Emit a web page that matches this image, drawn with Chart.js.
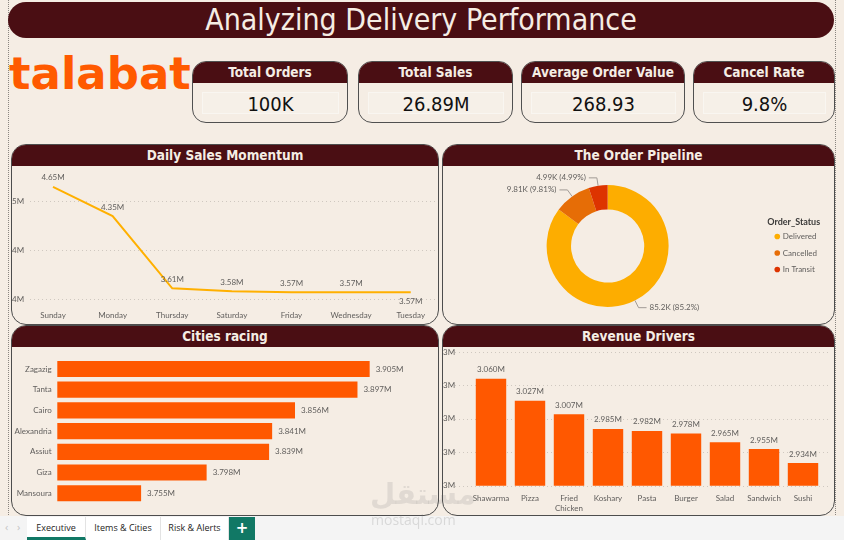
<!DOCTYPE html>
<html lang="en">
<head>
<meta charset="utf-8">
<title>Analyzing Delivery Performance</title>
<script src="https://cdn.jsdelivr.net/npm/chart.js@4.4.1/dist/chart.umd.min.js"></script>
<style>
  * { box-sizing: border-box; }
  body { margin: 0; width: 844px; height: 540px; overflow: hidden; position: relative; background: #F5EDE4; font-family: Lato, "Open Sans", sans-serif; }
  .frame { position: absolute; left: 8px; top: -2px; width: 828px; height: 519px; border: 1px dotted #8a8580; }
  .banner { position: absolute; left: 8px; top: 2px; width: 826px; height: 36px; border-radius: 18px; background: #4A0E13; color: #F5EDE4; text-align: center; font: 30px/36px "DejaVu Sans Condensed", sans-serif; }
  .logo { position: absolute; left: 9px; top: 46px; font: bold 45px/56px "DejaVu Sans", sans-serif; color: #FF5A00; }
  .card { position: absolute; top: 61px; height: 62px; border: 1px solid #505050; border-radius: 14px; overflow: hidden; }
  .card .head { height: 21px; background: #4A0E13; color: #F5EDE4; text-align: center; font: bold 13.5px/21px "DejaVu Sans Condensed", sans-serif; }
  .card .box { position: absolute; left: 9px; right: 8px; top: 30px; height: 22px; border: 1px solid rgba(255,255,255,0.4); background: #F6F0E8; text-align: center; font: 20px/22px "DejaVu Sans Condensed", sans-serif; color: #111; }
  .panel { position: absolute; border: 1.5px solid #4d4d4d; border-radius: 15px; overflow: hidden; }
  .panel .head { height: 21px; background: #4A0E13; color: #F5EDE4; text-align: center; font: bold 13.5px/21px "DejaVu Sans Condensed", sans-serif; }
  canvas { position: absolute; }
  .mark { position: absolute; color: rgba(110,110,110,0.15); pointer-events: none; }
  .tabs { position: absolute; left: 0; top: 516px; width: 844px; height: 24px; background: #F4F4F4; font: 9px/21px "Open Sans", sans-serif; color: #252423; }
  .tab { position: absolute; top: 1px; height: 23px; background: #fff; text-align: center; border-right: 1px solid #E3E3E3; }
  .tab.active { border-bottom: 3px solid #117865; }
  .plus { position: absolute; top: 1px; height: 23px; background: #117865; color: #fff; text-align: center; font: bold 15px/22px "DejaVu Sans", sans-serif; }
  .arrow { position: absolute; top: 0; color: #C4C4C4; font-size: 11px; }
</style>
</head>
<body>
<div class="frame"></div>
<div class="banner">Analyzing Delivery Performance</div>
<div class="logo">talabat</div>
<div id="cards"></div>

<div class="panel" style="left:11px;top:144px;width:428px;height:181px"><div class="head">Daily Sales Momentum</div></div>
<div class="panel" style="left:442px;top:144px;width:393px;height:181px"><div class="head">The Order Pipeline</div></div>
<div class="panel" style="left:11px;top:325px;width:428px;height:191px"><div class="head">Cities racing</div></div>
<div class="panel" style="left:442px;top:325px;width:393px;height:191px"><div class="head">Revenue Drivers</div></div>

<canvas id="salesChart" width="425" height="156" style="left:12px;top:167px"></canvas>
<canvas id="pipelineChart" width="391" height="156" style="left:443px;top:167px"></canvas>
<canvas id="citiesChart" width="426" height="166" style="left:12px;top:348px"></canvas>
<canvas id="itemsChart" width="391" height="166" style="left:443px;top:348px"></canvas>

<div class="tabs">
  <span class="arrow" style="left:5px">&#8249;</span>
  <span class="arrow" style="left:17px">&#8250;</span>
  <div class="tab active" style="left:27px;width:59px">Executive</div>
  <div class="tab" style="left:86px;width:75px">Items &amp; Cities</div>
  <div class="tab" style="left:161px;width:68px">Risk &amp; Alerts</div>
  <div class="plus" style="left:229px;width:26px">+</div>
</div>

<div class="mark" style="left:370px;top:476px;font:bold 29px/36px 'DejaVu Sans',sans-serif">مستقل</div>
<div class="mark" style="left:371px;top:511px;font:14px/18px 'Open Sans',sans-serif;color:rgba(120,120,120,0.22)">mostaql.com</div>

<script>
// KPI cards
const kpiTitles = ['Total Orders', 'Total Sales', 'Average Order Value', 'Cancel Rate'];
const kpiValues = ['100K', '26.89M', '268.93', '9.8%'];

// daily sales (millions)
const days = ['Sunday', 'Monday', 'Thursday', 'Saturday', 'Friday', 'Wednesday', 'Tuesday'];
const dailySales = [4.65, 4.35, 3.61, 3.58, 3.57, 3.57, 3.57];

// order status (orders)
const statuses = ['Delivered', 'Cancelled', 'In Transit'];
const statusOrders = [85200, 9810, 4990];

// cities (sales, millions)
const cities = ['Zagazig', 'Tanta', 'Cairo', 'Alexandria', 'Assiut', 'Giza', 'Mansoura'];
const citySales = [3.905, 3.897, 3.856, 3.841, 3.839, 3.798, 3.755];

// items (sales, millions)
const items = ['Shawarma', 'Pizza', 'Fried Chicken', 'Koshary', 'Pasta', 'Burger', 'Salad', 'Sandwich', 'Sushi'];
const itemSales = [3.060, 3.027, 3.007, 2.985, 2.982, 2.978, 2.965, 2.955, 2.934];

const labelGray = '#605E5C';

// cards html
const cardBoxes = [[192, 156], [358, 155], [521, 164], [693, 142]];
let html = '';
kpiTitles.forEach((t, i) => {
    html += `<div class="card" style="left:${cardBoxes[i][0]}px;width:${cardBoxes[i][1]}px">
        <div class="head">${t}</div><div class="box">${kpiValues[i]}</div></div>`;
});
document.getElementById('cards').innerHTML = html;

Chart.defaults.font.family = 'Lato, "Open Sans", sans-serif';
Chart.defaults.font.size = 8;
Chart.defaults.color = labelGray;
Chart.defaults.animation = false;
Chart.defaults.plugins.tooltip.enabled = false;

// dotted gridlines that run past the plot area, like Power BI does
const fullGrid = {
    id: 'fullGrid',
    beforeDatasetsDraw(chart, args, opts) {
        const y = chart.scales.y;
        const ctx = chart.ctx;
        ctx.save();
        ctx.strokeStyle = '#CFC8C0';
        ctx.lineWidth = 1;
        ctx.setLineDash([1, 3]);
        y.ticks.forEach(t => {
            const py = Math.round(y.getPixelForValue(t.value)) + 0.5;
            ctx.beginPath();
            ctx.moveTo(opts.x0, py);
            ctx.lineTo(opts.x1, py);
            ctx.stroke();
        });
        ctx.restore();
    }
};

// data labels
const valueLabels = {
    id: 'valueLabels',
    afterDatasetsDraw(chart, args, opts) {
        const ctx = chart.ctx;
        const meta = chart.getDatasetMeta(0);
        const values = chart.data.datasets[0].data;
        ctx.save();
        ctx.font = '8px Lato, "Open Sans", sans-serif';
        ctx.fillStyle = labelGray;
        ctx.textBaseline = 'middle';
        meta.data.forEach((el, i) => {
            const txt = values[i].toFixed(opts.decimals) + 'M';
            if (opts.side === 'right') {
                ctx.textAlign = 'left';
                ctx.fillText(txt, el.x + 6, el.y);
            } else if (opts.lastBelow && i === values.length - 1) {
                ctx.textAlign = 'center';
                ctx.fillText(txt, el.x, el.y + 9);
            } else {
                ctx.textAlign = 'center';
                ctx.fillText(txt, el.x, el.y - 9);
            }
        });
        ctx.restore();
    }
};

// doughnut labels with leader lines
const pipelineLabels = {
    id: 'pipelineLabels',
    afterDatasetsDraw(chart) {
        const ctx = chart.ctx;
        const meta = chart.getDatasetMeta(0);
        const values = chart.data.datasets[0].data;
        const total = values.reduce((a, b) => a + b, 0);
        ctx.save();
        ctx.font = '8px Lato, "Open Sans", sans-serif';
        ctx.fillStyle = labelGray;
        ctx.strokeStyle = '#A09A95';
        ctx.lineWidth = 1;
        ctx.textBaseline = 'middle';
        meta.data.forEach((arc, i) => {
            const mid = (arc.startAngle + arc.endAngle) / 2;
            const cos = Math.cos(mid), sin = Math.sin(mid);
            const x1 = arc.x + cos * arc.outerRadius;
            const y1 = arc.y + sin * arc.outerRadius;
            const x2 = arc.x + cos * (arc.outerRadius + 8);
            const y2 = arc.y + sin * (arc.outerRadius + 8);
            const right = cos >= 0;
            const x3 = x2 + (right ? 8 : -8);
            ctx.beginPath();
            ctx.moveTo(x1, y1);
            ctx.lineTo(x2, y2);
            ctx.lineTo(x3, y2);
            ctx.stroke();
            const txt = (values[i] / 1000).toPrecision(3) + 'K (' + (values[i] / total * 100).toPrecision(3) + '%)';
            ctx.textAlign = right ? 'left' : 'right';
            ctx.fillText(txt, x3 + (right ? 3 : -3), y2);
        });
        ctx.restore();
    }
};

// 📈 Daily Sales Momentum
new Chart(document.getElementById('salesChart'), {
    type: 'line',
    data: {
        labels: days,
        datasets: [{
            data: dailySales,
            borderColor: '#FFB000',
            borderWidth: 2,
            pointRadius: 0,
            tension: 0
        }]
    },
    options: {
        responsive: false,
        layout: { padding: { top: 3.2, right: 20, bottom: 2, left: 0 } },
        plugins: {
            legend: { display: false },
            fullGrid: { x0: 18, x1: 425 },
            valueLabels: { decimals: 2, lastBelow: true }
        },
        scales: {
            x: {
                grid: { display: false, drawTicks: false },
                border: { display: false },
                ticks: { padding: 12, maxRotation: 0, autoSkip: false },
                afterFit: s => { s.height = 22; }
            },
            y: {
                min: 3.5,
                max: 4.82,
                grid: { display: false, drawTicks: false },
                border: { display: false },
                ticks: { stepSize: 0.5, padding: 0, font: { lineHeight: 0.8 }, includeBounds: false, crossAlign: 'far', callback: v => Math.round(v) + 'M' },
                afterFit: s => { s.width = 41; }
            }
        }
    },
    plugins: [fullGrid, valueLabels]
});

// 🍩 The Order Pipeline
new Chart(document.getElementById('pipelineChart'), {
    type: 'doughnut',
    data: {
        labels: statuses,
        datasets: [{
            data: statusOrders,
            backgroundColor: ['#FDAD00', '#E66D06', '#DD3400'],
            borderWidth: 0
        }]
    },
    options: {
        responsive: false,
        cutout: '60%',
        layout: { padding: { top: 18, bottom: 16, left: 5, right: 7 } },
        plugins: {
            legend: {
                position: 'right',
                align: 'center',
                title: { display: true, text: 'Order_Status', color: '#3B3A39', font: { size: 9, weight: 'bold', lineHeight: 1 }, position: 'start', padding: { top: 8, bottom: -3 } },
                labels: { usePointStyle: true, pointStyle: 'circle', boxWidth: 3, boxHeight: 4, padding: 8.5, color: labelGray, font: { size: 8 } }
            }
        }
    },
    plugins: [pipelineLabels]
});

// 🏙️ Cities racing
new Chart(document.getElementById('citiesChart'), {
    type: 'bar',
    data: {
        labels: cities,
        datasets: [{
            data: citySales,
            backgroundColor: '#FF5800',
            barPercentage: 0.78,
            categoryPercentage: 1
        }]
    },
    options: {
        responsive: false,
        indexAxis: 'y',
        layout: { padding: { top: 10.6, right: 15, bottom: 5.2, left: 0 } },
        plugins: {
            legend: { display: false },
            valueLabels: { decimals: 3, side: 'right' }
        },
        scales: {
            x: { display: false, min: 3.7, max: 3.94 },
            y: {
                grid: { display: false, drawTicks: false },
                border: { display: false },
                ticks: { padding: 5.6, autoSkip: false },
                afterFit: s => { s.width = 45.3; }
            }
        }
    },
    plugins: [valueLabels]
});

// 🍔 Revenue Drivers
new Chart(document.getElementById('itemsChart'), {
    type: 'bar',
    data: {
        labels: items.map(s => s.includes(' ') ? s.split(' ') : s),
        datasets: [{
            data: itemSales,
            backgroundColor: '#FF5800',
            barPercentage: 0.78,
            categoryPercentage: 1
        }]
    },
    options: {
        responsive: false,
        layout: { padding: { top: 4, right: 11.5, bottom: 0, left: 0 } },
        plugins: {
            legend: { display: false },
            fullGrid: { x0: 12, x1: 388 },
            valueLabels: { decimals: 3 }
        },
        scales: {
            x: {
                grid: { display: false, drawTicks: false },
                border: { display: false },
                ticks: { padding: 7.3, maxRotation: 0, autoSkip: false, font: { lineHeight: 1.3 } },
                afterFit: s => { s.height = 28.3; }
            },
            y: {
                min: 2.9,
                max: 3.1,
                grid: { display: false, drawTicks: false },
                border: { display: false },
                ticks: { stepSize: 0.05, padding: 0, font: { lineHeight: 0.8 }, crossAlign: 'far', callback: v => Math.round(v) + 'M' },
                afterFit: s => { s.width = 28.5; }
            }
        }
    },
    plugins: [fullGrid, valueLabels]
});
</script>
</body>
</html>
